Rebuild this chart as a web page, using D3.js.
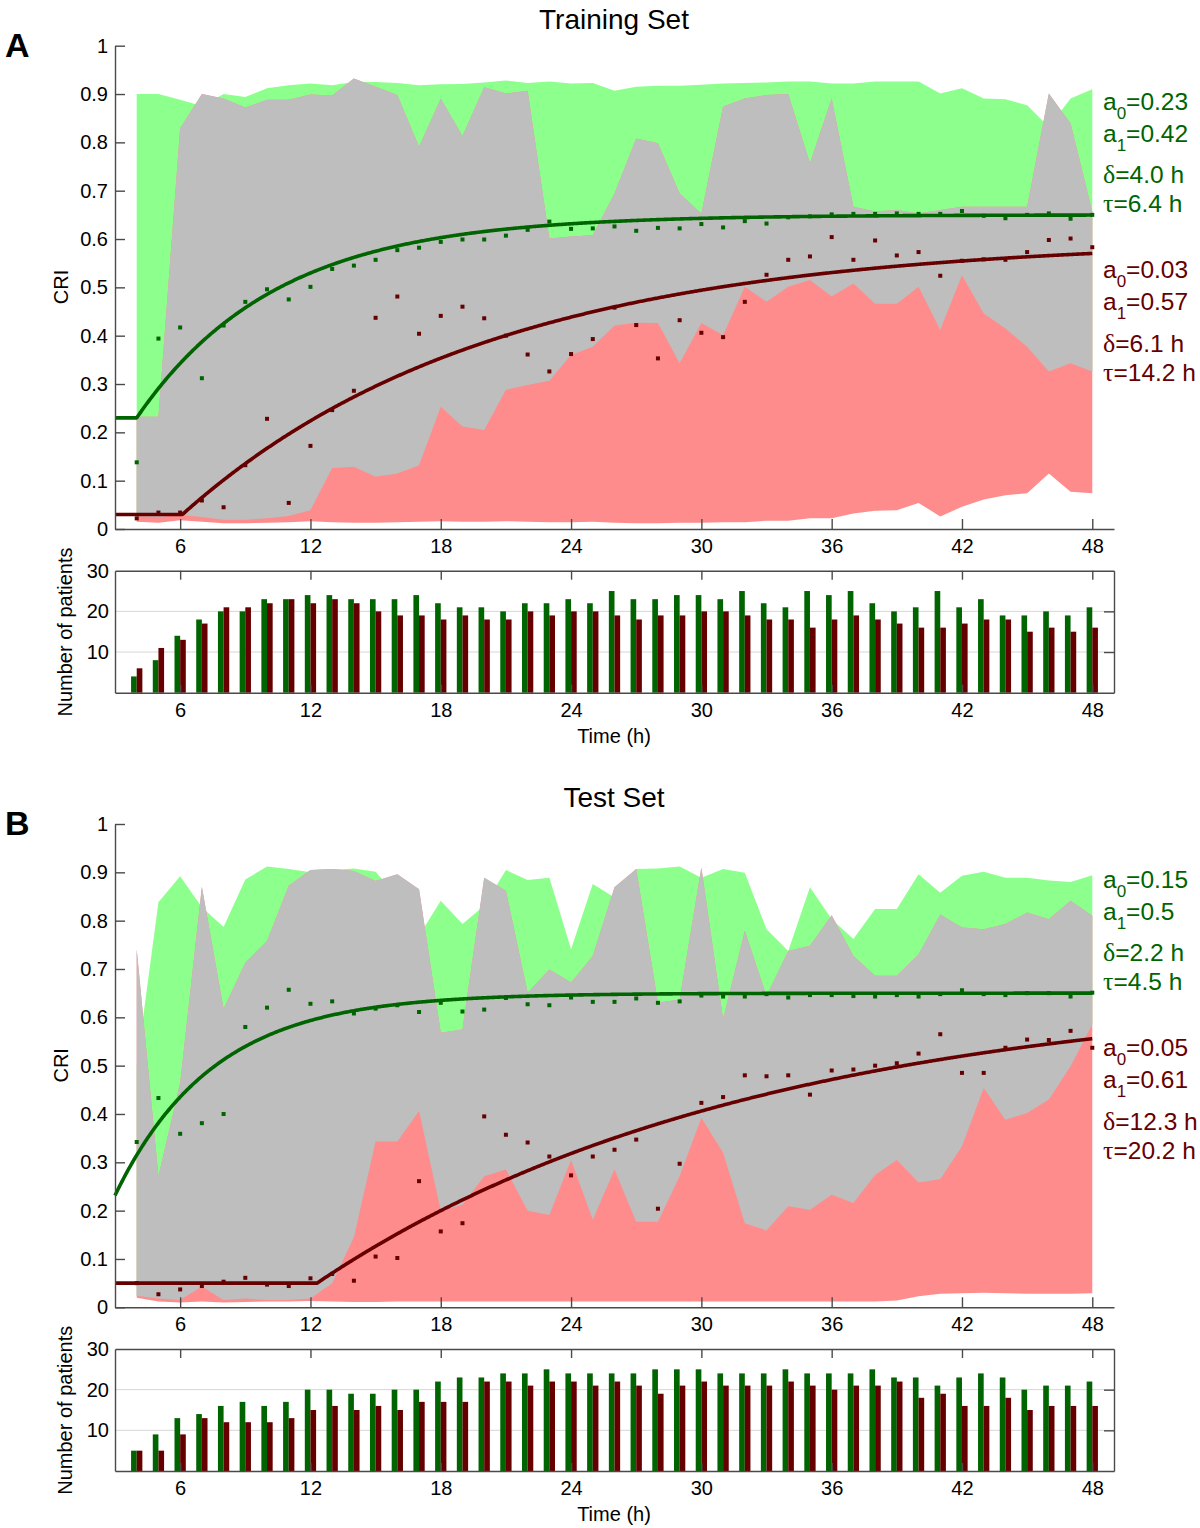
<!DOCTYPE html>
<html><head><meta charset="utf-8">
<script src="https://cdn.jsdelivr.net/npm/d3@7"></script>
<style>
body{margin:0;background:#fff}
svg text{font-family:"Liberation Sans",Arial,Helvetica,sans-serif;fill:#000}
</style>
</head><body>
<svg id="chart" width="1200" height="1528"></svg>
<script>
// ---------- categories & ticks ----------
const hours = [4,5,6,7,8,9,10,11,12,13,14,15,16,17,18,19,20,21,22,23,24,25,26,27,28,29,30,31,32,33,34,35,36,37,38,39,40,41,42,43,44,45,46,47,48];
const xTicks = [6,12,18,24,30,36,42,48];
const criTicks = [0,0.1,0.2,0.3,0.4,0.5,0.6,0.7,0.8,0.9,1];
const countTicks = [10,20,30];

// ---------- Training set (A) ----------
const trainGreenTop = [0.900,0.900,0.888,0.875,0.900,0.894,0.912,0.918,0.922,0.918, 0.925,0.925,0.923,0.918,0.920,0.921,0.924,0.928,0.923,0.926, 0.922,0.923,0.907,0.915,0.917,0.917,0.919,0.922,0.923,0.924, 0.926,0.926,0.922,0.922,0.926,0.926,0.926,0.901,0.912,0.891, 0.889,0.877,0.832,0.891,0.910];
const trainGrayTop = [0.232,0.232,0.829,0.900,0.891,0.872,0.888,0.888,0.899,0.897, 0.932,0.915,0.898,0.791,0.890,0.813,0.914,0.901,0.907,0.601, 0.605,0.608,0.694,0.808,0.798,0.694,0.653,0.874,0.891,0.898, 0.900,0.757,0.891,0.667,0.657,0.660,0.653,0.660,0.667,0.667, 0.667,0.667,0.901,0.839,0.657];
const trainGrayBottom = [0.026,0.025,0.029,0.025,0.019,0.019,0.022,0.027,0.039,0.126, 0.129,0.108,0.115,0.132,0.253,0.212,0.205,0.288,0.298,0.307, 0.360,0.377,0.421,0.427,0.426,0.343,0.426,0.401,0.501,0.470, 0.501,0.515,0.481,0.508,0.466,0.466,0.501,0.412,0.525,0.446, 0.415,0.377,0.326,0.343,0.326];
const trainRedBottom = [0.015,0.013,0.018,0.015,0.012,0.012,0.013,0.014,0.016,0.014, 0.013,0.013,0.014,0.015,0.016,0.015,0.015,0.016,0.015,0.014, 0.014,0.015,0.013,0.012,0.012,0.013,0.013,0.014,0.014,0.017, 0.017,0.022,0.022,0.032,0.038,0.039,0.054,0.026,0.046,0.061, 0.070,0.074,0.115,0.077,0.074];
const trainGreenPts = [0.138,0.394,0.417,0.312,0.421,0.470,0.496,0.475,0.501,0.538, 0.545,0.557,0.577,0.582,0.594,0.599,0.599,0.607,0.619,0.636, 0.621,0.622,0.626,0.617,0.623,0.622,0.631,0.624,0.637,0.632, 0.645,0.647,0.651,0.652,0.652,0.653,0.652,0.652,0.658,0.648, 0.643,0.650,0.653,0.642,0.650];
const trainRedPts = [0.022,0.034,0.034,0.059,0.045,0.132,0.228,0.054,0.172,0.246, 0.286,0.437,0.481,0.404,0.441,0.460,0.436,0.400,0.361,0.326, 0.362,0.393,0.458,0.422,0.353,0.432,0.406,0.397,0.470,0.526, 0.557,0.564,0.604,0.557,0.597,0.566,0.573,0.524,0.555,0.558, 0.557,0.573,0.598,0.601,0.583];
const trainGreenCount = [4,8,14,18,20,20,23,23,24,24, 23,23,23,24,22,21,21,20,22,22, 23,22,25,23,23,24,24,23,25,22, 21,25,24,25,22,20,21,25,21,23, 19,19,20,19,21];
const trainRedCount = [6,11,13,17,21,21,22,23,22,23, 22,20,19,19,18,19,18,18,20,19, 20,20,19,18,19,19,20,20,19,18, 18,16,18,19,18,17,16,16,17,18, 18,15,16,15,16];
const trainGreenFit = {a0:0.23, a1:0.42, delta:4.0, tau:6.4};
const trainRedFit = {a0:0.03, a1:0.57, delta:6.1, tau:14.2};

// ---------- Test set (B) ----------
const testGreenTop = [0.500,0.838,0.892,0.828,0.787,0.885,0.912,0.907,0.900,0.905, 0.908,0.901,0.850,0.769,0.841,0.793,0.831,0.905,0.884,0.889, 0.741,0.876,0.848,0.907,0.908,0.912,0.889,0.907,0.899,0.782, 0.737,0.869,0.803,0.762,0.824,0.824,0.896,0.858,0.893,0.901, 0.889,0.889,0.883,0.880,0.894];
const testGrayTop = [0.741,0.271,0.464,0.870,0.617,0.713,0.758,0.872,0.905,0.907, 0.903,0.882,0.896,0.865,0.568,0.575,0.889,0.862,0.651,0.699, 0.672,0.727,0.869,0.907,0.630,0.637,0.910,0.596,0.779,0.644, 0.737,0.748,0.811,0.727,0.686,0.686,0.730,0.813,0.786,0.782, 0.793,0.817,0.803,0.841,0.810];
const testGrayBottom = [0.024,0.018,0.015,0.043,0.015,0.018,0.015,0.015,0.018,0.050, 0.145,0.343,0.343,0.406,0.200,0.212,0.271,0.285,0.200,0.191, 0.305,0.181,0.285,0.177,0.177,0.271,0.392,0.320,0.174,0.159, 0.209,0.202,0.233,0.216,0.274,0.305,0.258,0.265,0.333,0.454, 0.388,0.402,0.430,0.499,0.585];
const testRedBottom = [0.020,0.012,0.010,0.012,0.010,0.011,0.012,0.012,0.013,0.012, 0.011,0.011,0.012,0.012,0.012,0.012,0.012,0.012,0.012,0.012, 0.012,0.012,0.012,0.012,0.012,0.012,0.012,0.012,0.012,0.012, 0.012,0.012,0.012,0.012,0.012,0.014,0.023,0.028,0.029,0.030, 0.029,0.028,0.028,0.028,0.029];
const testGreenPts = [0.342,0.433,0.359,0.381,0.400,0.580,0.620,0.657,0.628,0.633, 0.608,0.618,0.625,0.611,0.630,0.612,0.616,0.640,0.627,0.625, 0.641,0.632,0.632,0.639,0.630,0.633,0.645,0.643,0.643,0.648, 0.641,0.646,0.646,0.644,0.643,0.646,0.643,0.648,0.656,0.648, 0.646,0.650,0.650,0.643,0.651];
const testRedPts = [0.050,0.027,0.037,0.044,0.053,0.061,0.047,0.044,0.060,0.069, 0.055,0.105,0.102,0.261,0.157,0.174,0.395,0.357,0.341,0.312, 0.273,0.312,0.326,0.347,0.204,0.297,0.423,0.435,0.480,0.478, 0.480,0.440,0.490,0.492,0.500,0.505,0.525,0.565,0.485,0.485, 0.537,0.554,0.553,0.572,0.537];
const testGreenCount = [5,9,13,14,16,17,16,17,20,20, 19,19,20,20,22,23,23,24,24,25, 24,24,24,24,25,25,25,24,24,24, 25,24,24,24,25,23,23,21,23,24, 23,20,21,21,22];
const testRedCount = [5,5,9,13,12,12,12,13,15,16, 15,16,15,17,17,17,22,22,21,22, 22,21,22,21,19,21,22,21,21,21, 22,21,20,21,21,22,18,19,16,16, 18,15,16,16,16];
const testGreenFit = {a0:0.15, a1:0.5, delta:2.2, tau:4.5};
const testRedFit = {a0:0.05, a1:0.61, delta:12.3, tau:20.2};

// ---------- style ----------
const C = {
  greenFill:'#8CFF8C', redFill:'#FF8C8C', grayFill:'#BEBEBE',
  green:'#006400', red:'#660000', axis:'#4a4a4a', grid:'#d6d6d6'
};
const svg = d3.select('#chart');

function fitValue(p, t){
  return t < p.delta ? p.a0 : p.a0 + p.a1*(1 - Math.exp(-(t - p.delta)/p.tau));
}

function paramBlock(g, x, baselines, fit, color){
  const lines = [
    {sym:'a', sub:'0', val:'=' + fit.a0},
    {sym:'a', sub:'1', val:'=' + fit.a1},
    {greek:'δ', val:'=' + fit.delta.toFixed(1) + ' h'},
    {greek:'τ', val:'=' + fit.tau.toFixed(1) + ' h'}
  ];
  lines.forEach((l,i)=>{
    const t = g.append('text').attr('x', x).attr('y', baselines[i])
      .style('font-size','24.5px').style('fill', color);
    if (l.sub){
      t.append('tspan').text(l.sym);
      t.append('tspan').text(l.sub).style('font-size','17px').attr('dy', 9);
      t.append('tspan').text(l.val).attr('dy', -9);
    } else {
      t.append('tspan').text(l.greek).style('font-family','"Liberation Serif","Times New Roman",serif').style('font-size','26px');
      t.append('tspan').text(l.val);
    }
  });
}

function drawPanel(o){
  const g = svg.append('g').attr('transform', `translate(0,${o.dy})`);
  const x = d3.scaleLinear().domain([3,49]).range([115,1114]);
  const y = d3.scaleLinear().domain([0,1]).range([529,45.7]);
  const yb = d3.scaleLinear().domain([0,30]).range([692.7,570.7]);

  const rows = hours.map((h,i)=>({h, gt:o.greenTop[i], yt:o.grayTop[i], yl:o.grayBottom[i], rb:o.redBottom[i],
    gp:o.greenPts[i], rp:o.redPts[i], gc:o.greenCount[i], rc:o.redCount[i]}));

  // letter & title
  g.append('text').attr('x',5).attr('y',57).text(o.letter)
    .style('font-size','34px').style('font-weight','bold');
  g.append('text').attr('x',614).attr('y',29).attr('text-anchor','middle').text(o.title)
    .style('font-size','28px');

  // bands
  g.append('path').datum(rows).attr('fill',C.greenFill)
    .attr('d', d3.area().x(d=>x(d.h)).y0(d=>y(d.yl)).y1(d=>y(d.gt)));
  g.append('path').datum(rows).attr('fill',C.redFill)
    .attr('d', d3.area().x(d=>x(d.h)).y0(d=>y(d.rb)).y1(d=>y(d.yt)));
  g.append('path').datum(rows).attr('fill',C.grayFill)
    .attr('d', d3.area().x(d=>x(d.h)).y0(d=>y(d.yl)).y1(d=>y(d.yt)));

  // fitted curves
  const ts = d3.range(3, 48.0001, 0.05);
  [[o.greenFit, C.green],[o.redFit, C.red]].forEach(([fit,col])=>{
    const pts = ts.concat([fit.delta]).filter(t=>t>=3 && t<=48).sort((a,b)=>a-b);
    g.append('path').datum(pts).attr('fill','none').attr('stroke',col).attr('stroke-width',3.6)
      .attr('stroke-linejoin','round')
      .attr('d', d3.line().x(t=>x(t)).y(t=>y(fitValue(fit,t))));
  });

  // scatter points
  g.append('g').selectAll('rect').data(rows).join('rect')
    .attr('x', d=>x(d.h)-2).attr('y', d=>y(d.gp)-2).attr('width',4).attr('height',4).attr('fill',C.green);
  g.append('g').selectAll('rect').data(rows).join('rect')
    .attr('x', d=>x(d.h)-2).attr('y', d=>y(d.rp)-2).attr('width',4).attr('height',4).attr('fill',C.red);

  // main axes
  const ax = g.append('g').attr('transform','translate(0,529)')
    .call(d3.axisBottom(x).tickValues(xTicks).tickSize(-10).tickSizeOuter(0).tickPadding(10));
  const ay = g.append('g').attr('transform','translate(115,0)')
    .call(d3.axisLeft(y).tickValues(criTicks).tickSize(-10).tickSizeOuter(0).tickPadding(7).tickFormat(d=>String(d)));
  [ax, ay].forEach(a=>{
    a.attr('font-family',null).attr('font-size',null);
    a.selectAll('path,line').attr('stroke',C.axis).attr('stroke-width',1.4);
    a.selectAll('text').style('font-size','20px').attr('fill','#000');
  });

  g.append('text').attr('transform','translate(68,287) rotate(-90)').attr('text-anchor','middle')
    .text('CRI').style('font-size','20px');

  // parameter annotations
  paramBlock(g, 1103, [110,142,183,212], o.greenFit, C.green);
  paramBlock(g, 1103, [278,310,352,381], o.redFit, C.red);

  // ---------- bar chart ----------
  g.append('g').selectAll('line').data(countTicks.filter(v=>v<30)).join('line')
    .attr('x1',115).attr('x2',1114).attr('y1',d=>yb(d)).attr('y2',d=>yb(d))
    .attr('stroke',C.grid).attr('stroke-width',1);

  const bw = 0.26;
  g.append('g').selectAll('rect').data(rows).join('rect')
    .attr('x', d=>x(d.h-bw)).attr('width', x(bw)-x(0))
    .attr('y', d=>yb(d.gc)).attr('height', d=>yb(0)-yb(d.gc)).attr('fill',C.green);
  g.append('g').selectAll('rect').data(rows).join('rect')
    .attr('x', d=>x(d.h)).attr('width', x(bw)-x(0))
    .attr('y', d=>yb(d.rc)).attr('height', d=>yb(0)-yb(d.rc)).attr('fill',C.red);

  const bx = g.append('g').attr('transform','translate(0,692.7)')
    .call(d3.axisBottom(x).tickValues(xTicks).tickSize(-8).tickSizeOuter(0).tickPadding(10));
  const bt = g.append('g').attr('transform','translate(0,570.7)')
    .call(d3.axisTop(x).tickValues(xTicks).tickSize(-9).tickSizeOuter(0).tickFormat(''));
  const byl = g.append('g').attr('transform','translate(115,0)')
    .call(d3.axisLeft(yb).tickValues(countTicks).tickSize(0).tickSizeOuter(0).tickPadding(6));
  const byr = g.append('g').attr('transform','translate(1114,0)')
    .call(d3.axisRight(yb).tickValues([10,20]).tickSize(-10).tickSizeOuter(0).tickFormat(''));
  [bx, bt, byl, byr].forEach(a=>{
    a.attr('font-family',null).attr('font-size',null);
    a.selectAll('path,line').attr('stroke',C.axis).attr('stroke-width',1.4);
    a.selectAll('text').style('font-size','20px').attr('fill','#000');
  });

  g.append('text').attr('transform','translate(72,632) rotate(-90)').attr('text-anchor','middle')
    .text('Number of patients').style('font-size','20px');
  g.append('text').attr('x',614).attr('y',743).attr('text-anchor','middle')
    .text('Time (h)').style('font-size','20px');
}

drawPanel({dy:0, letter:'A', title:'Training Set',
  greenTop:trainGreenTop, grayTop:trainGrayTop, grayBottom:trainGrayBottom, redBottom:trainRedBottom,
  greenPts:trainGreenPts, redPts:trainRedPts, greenCount:trainGreenCount, redCount:trainRedCount,
  greenFit:trainGreenFit, redFit:trainRedFit});
drawPanel({dy:778.3, letter:'B', title:'Test Set',
  greenTop:testGreenTop, grayTop:testGrayTop, grayBottom:testGrayBottom, redBottom:testRedBottom,
  greenPts:testGreenPts, redPts:testRedPts, greenCount:testGreenCount, redCount:testRedCount,
  greenFit:testGreenFit, redFit:testRedFit});
</script>
</body></html>
